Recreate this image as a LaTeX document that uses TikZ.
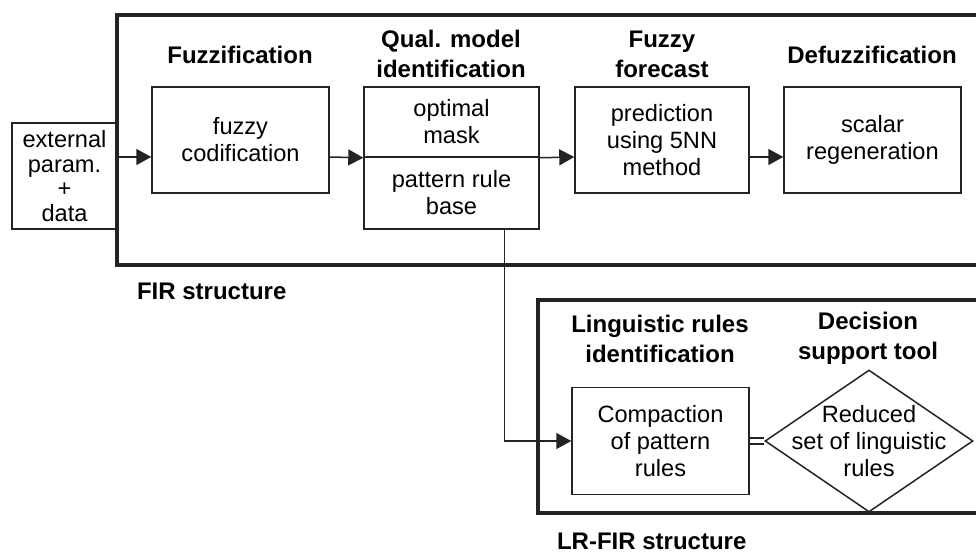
\documentclass[tikz,border=0pt]{standalone}
\usepackage{fontspec}
\setmainfont{Liberation Sans}
\usetikzlibrary{positioning,shapes.geometric,arrows.meta,calc}
\definecolor{lineblack}{RGB}{35,35,35}

\begin{document}
\begin{tikzpicture}[x=0.5pt,y=-0.5pt,
  stagebox/.style={draw=lineblack, line width=0.75pt, minimum width=88.5pt, minimum height=53pt, align=center, inner sep=1pt, font=\fontsize{11.8}{13.5}\selectfont},
  stagehead/.style={align=center, font=\bfseries\fontsize{12}{15}\selectfont},
  structframe/.style={draw=lineblack, line width=2pt},
  flowline/.style={draw=lineblack, line width=0.75pt, -{Triangle[length=7.5pt,width=8pt]}}]
\useasboundingbox (0,0) rectangle (976,552);

% FIR structure frame, open to the right
\draw[structframe] (976,15) -- (116.5,15) -- (116.5,265) -- (976,265);
\node[anchor=west, font=\bfseries\fontsize{12}{13.5}\selectfont] (firlabel) at (130,291) {FIR structure};

% input box
\node[stagebox, minimum width=52.5pt, font=\fontsize{11.8}{12.3}\selectfont] (ext) at (64.5,176) {external\\param.\\+\\data};

% stage headings
\node[stagehead] (fuzzhead) at (240,55) {Fuzzification};
\node[stagehead] (qualhead) at (451,54) {Qual. model\\identification};
\node[stagehead] (forehead) at (662,54) {Fuzzy\\forecast};
\node[stagehead] (defuzzhead) at (872,55) {Defuzzification};

% stage boxes
\node[stagebox] (fuzzy) at (240.5,140) {fuzzy\\codification};
\node[stagebox, minimum width=87.5pt, minimum height=35pt] (qualtop) at (451.5,122) {optimal\\mask};
\node[stagebox, minimum width=87.5pt, minimum height=36pt] (qualbot) at (451.5,193) {pattern rule\\base};
\node[stagebox, minimum width=87pt] (forecast) at (662,140) {prediction\\using 5NN\\method};
\node[stagebox] (defuzz) at (872.5,140) {scalar\\regeneration};

% flow through the FIR stages
\coordinate (flow) at (0,157);
\draw[flowline] (ext.east |- flow) -- (fuzzy.west |- flow);
\draw[flowline] (fuzzy.east |- flow) -- (qualtop.south west);
\draw[flowline] (qualtop.south east) -- (forecast.west |- flow);
\draw[flowline] (forecast.east |- flow) -- (defuzz.west |- flow);

% LR-FIR structure frame
\draw[structframe] (976,300) -- (538,300) -- (538,513) -- (976,513);
\node[anchor=west, font=\bfseries\fontsize{12}{13.5}\selectfont] (lrlabel) at (550,541) {LR-FIR structure};

\node[stagehead] (linghead) at (660,339) {Linguistic rules\\identification};
\node[stagehead] (dechead) at (868,338) {Decision\\support tool};

\node[stagebox, minimum height=53.5pt] (comp) at (660.5,441) {Compaction\\of pattern\\rules};
\node[diamond, draw=lineblack, line width=0.75pt, minimum width=104pt, minimum height=71pt, inner sep=0pt] (tool) at (869,441) {};
\node[align=center, font=\fontsize{11.8}{13.5}\selectfont] (tooltext) at (tool.center) {Reduced\\set of linguistic\\rules};

% rule base feeds the compaction
\coordinate (qualtap) at ($(qualbot.south west)!0.8!(qualbot.south east)$);
\draw[flowline] (qualtap) |- (comp.west);
\draw[draw=lineblack, line width=0.8pt, double, double distance=2pt] (comp.east) -- (tool.west);
\end{tikzpicture}
\end{document}
